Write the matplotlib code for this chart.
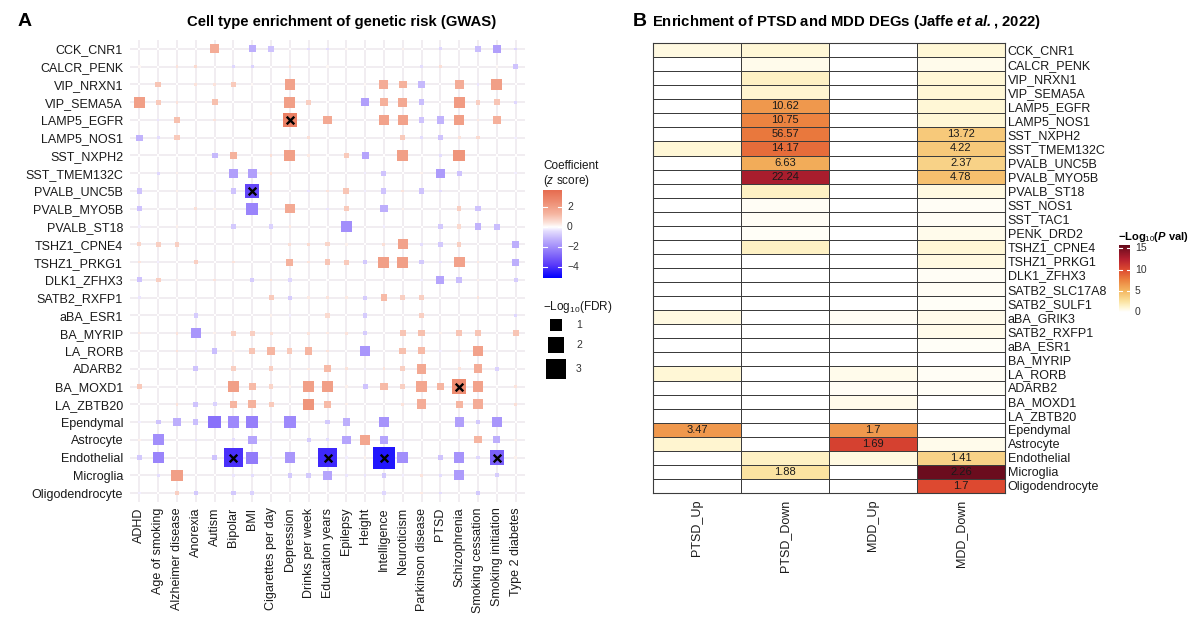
import numpy as np
import matplotlib
matplotlib.use('Agg')
import matplotlib.pyplot as plt
from matplotlib.colors import LinearSegmentedColormap, Normalize

plt.rcParams['font.family'] = ['Liberation Sans', 'DejaVu Sans']
plt.rcParams['mathtext.fontset'] = 'custom'
plt.rcParams['mathtext.rm'] = 'Liberation Sans'
plt.rcParams['mathtext.it'] = 'Liberation Sans:italic'
plt.rcParams['mathtext.bf'] = 'Liberation Sans:bold'
try:
    plt.rcParams['mathtext.bfit'] = 'Liberation Sans:italic:bold'
except Exception:
    pass

# ---------------- Panel A data ----------------
traits = ["ADHD", "Age of smoking", "Alzheimer disease", "Anorexia", "Autism", "Bipolar", "BMI",
          "Cigarettes per day", "Depression", "Drinks per week", "Education years", "Epilepsy",
          "Height", "Intelligence", "Neuroticism", "Parkinson disease", "PTSD", "Schizophrenia",
          "Smoking cessation", "Smoking initiation", "Type 2 diabetes"]
cell_types_a = ["CCK_CNR1", "CALCR_PENK", "VIP_NRXN1", "VIP_SEMA5A", "LAMP5_EGFR", "LAMP5_NOS1",
                "SST_NXPH2", "SST_TMEM132C", "PVALB_UNC5B", "PVALB_MYO5B", "PVALB_ST18",
                "TSHZ1_CPNE4", "TSHZ1_PRKG1", "DLK1_ZFHX3", "SATB2_RXFP1", "aBA_ESR1", "BA_MYRIP",
                "LA_RORB", "ADARB2", "BA_MOXD1", "LA_ZBTB20", "Ependymal", "Astrocyte",
                "Endothelial", "Microglia", "Oligodendrocyte"]

# coefficient (z score), rows = cell types, cols = traits
zscore = [
    [0, 0, 0, 0, 1.6, 0, -1.3, -0.9, 0, -0.4, -0.4, 0.1, 0, 0, 0.2, 0, -0.5, 0, -1.0, -1.6, -0.5],
    [0.1, 0, 0.4, 0.6, 0, -0.5, -0.6, 0, 0.4, 0, 0.1, 0, 0, 0, 0, -0.4, 0.5, 0, 0, 0.1, -0.9],
    [0, 1.0, 0, 0.4, 0.4, 0.9, 0.1, 0, 1.9, 0, 0, 0, 0.1, 1.6, 1.4, -1.1, 0, 1.6, -0.3, 2.0, 0],
    [2.0, 0.9, 0.4, 0.1, 1.1, 0, 0, 0, 2.0, 0.8, 0, 0, -1.6, 1.5, 1.7, -1.0, 0, 2.1, 0.8, 1.0, -0.5],
    [0, -0.3, 1.1, 0, 0.4, 0, 0, 0, 3.0, 0, 1.7, 0, 0, 1.9, 1.9, -0.9, -1.2, 2.0, 0.3, 1.5, 0],
    [-1.2, -0.4, 0.9, 0, 0, 0, 0.1, 0, 0, 0.5, 0, 0, 0, 0, 0.9, -0.4, -0.9, 0.4, 0.6, 0, -0.2],
    [0, 0, 0, 0, -1.1, 1.4, 0, 0.5, 2.0, 0.3, 0, 0.9, -1.5, 0, 2.0, 0, -0.4, 2.3, 0, 0, 0],
    [0, -0.5, 0.2, 0, 0, -1.6, -1.6, 0.4, 0, 0, 0, 0, -0.2, -0.9, 0, 0.2, -1.7, -0.9, 0, 0, -0.2],
    [-0.9, 0, 0.2, 0, -0.2, -0.9, -3.5, 0.3, 0, -0.3, 0.4, 1.0, -0.2, -0.9, 0.4, -0.9, -0.4, 0, 0, 0, 0],
    [-0.9, 0, 0, 0.5, 0.2, 0, -2.2, 0, 1.7, 0, -0.3, 0.9, 0, -1.3, 0.2, 0, 0, 0.8, -0.9, 0, 0],
    [-0.2, 0, 0.2, 0, 0, -0.8, 0, -0.6, 0.3, 0, 0, -2.0, 0, -0.2, 0, 0, -0.8, 0.6, -1.2, -1.0, 0],
    [0.7, 0.8, 0.8, 0, 0, 0, 0, 0, 0.5, 0.6, 0.7, 0.2, 0, 0.5, 1.9, -0.4, -0.8, 0.8, 0, 0, -1.3],
    [0.4, -0.2, 0, 0.8, 0, 0.4, 0, 0, 1.4, 0.4, 1.0, 0.9, -0.8, 2.0, 2.0, -0.8, -0.3, 1.9, 0.3, 0, -1.3],
    [-0.9, 0.8, 0.2, 0, 0.4, 0, -0.7, 0.4, -0.5, 0, 0, 0, 0, 0, 0, -0.2, -1.5, -1.0, 0.2, 0, -0.7],
    [-0.3, 0, 0, 0, 0, 0, 0, 0.9, -0.7, 0.3, 0.4, 0.3, -0.7, 1.2, 0.8, 0.8, 0, 0, 0.4, 0, 0],
    [0, 0, 0, -0.7, 0, 0, 0, 0.2, -0.2, 0, 0.6, 0, -0.7, 0, 0, 0.8, 0, 0, 0, 0, -0.5],
    [0.3, 0, 0.4, -1.8, 0.2, 0.8, 0.8, 0.5, 0, 0.4, 0.3, 0.4, -0.7, 0, 1.0, 1.1, 0.2, 1.0, 1.0, 0, 1.0],
    [0, 0, 0.4, -0.2, -1.0, 0.2, 1.0, 1.3, 0.9, 1.3, 0.4, 0, -1.8, 0, 1.1, 1.2, -0.2, 0.4, 1.9, 0, 0],
    [0, 0, 0, -0.9, 0, 0.8, 0, 0.8, 0.2, 0.3, 1.2, 0.4, -0.2, 0.4, 0.8, 1.7, 0, 0.4, 1.6, -0.6, 0],
    [0.9, 0, 0, 0, 0, 2.0, 1.2, 0.7, 0.2, 2.0, 2.0, 0.2, -0.9, 1.2, 0.8, 1.8, 1.3, 2.6, 1.9, 0, 0.4],
    [0, 0, 0.4, -0.9, -0.6, 1.3, 1.4, 0.9, 0, 2.3, 1.2, 0.2, 0, 0, 0.4, 1.6, 0, 1.3, 1.6, 0, 0.5],
    [-0.2, -0.9, -1.3, -1.0, -2.6, -2.1, -2.3, -0.2, -2.1, 0, -0.8, -1.3, 0, -1.9, 0, 0, 0, -1.6, -0.8, -1.8, 0],
    [0.2, -2.0, 0, -0.3, 0, -0.4, -1.5, -0.2, 0, -0.7, -0.4, -1.5, 1.8, -1.5, -0.2, 0, 0, -0.2, 1.3, -1.3, 0.2],
    [-0.8, -2.2, 0, 0, -0.9, -4.0, -2.4, -0.2, -1.8, 0, -4.2, -0.2, 0.2, -4.6, -2.0, 0, -0.9, -1.9, -0.5, -3.0, 0.2],
    [0, -0.4, 2.0, 0, 0, -0.3, -0.4, 0, -0.8, -0.8, -1.5, -0.3, -0.3, -0.8, -0.2, 0.4, -0.4, -1.7, 0, -0.7, 0],
    [-0.2, 0, 0.8, -0.8, 0, -0.8, -0.6, 0, 0, 0, 0, 0, 0, -0.5, 0, 0.3, -0.4, 0, -0.8, 0, -0.1],
]

# -log10(FDR)
neglog_fdr = [
    [.03, .03, .03, .03, .55, .03, .36, .24, .03, .05, .05, .04, .03, .03, .04, .03, .06, .03, .24, .5, .05],
    [.04, .03, .05, .07, .03, .06, .07, .03, .05, .03, .04, .03, .03, .03, .03, .05, .06, .03, .03, .04, .18],
    [.03, .22, .03, .05, .05, .18, .04, .03, .72, .03, .03, .03, .04, .55, .42, .3, .03, .55, .04, .8, .03],
    [.8, .18, .05, .04, .24, .03, .03, .03, .85, .15, .03, .03, .42, .42, .55, .24, .03, .85, .15, .24, .06],
    [.03, .04, .24, .03, .05, .03, .03, .03, 1.4, .03, .5, .03, .03, .8, .72, .18, .36, .72, .04, .42, .03],
    [.27, .05, .18, .03, .03, .03, .04, .03, .03, .06, .03, .03, .03, .03, .18, .05, .18, .05, .08, .03, .04],
    [.03, .03, .03, .03, .24, .36, .03, .05, .85, .04, .03, .18, .36, .03, .8, .03, .05, .9, .03, .03, .03],
    [.03, .06, .04, .03, .03, .55, .55, .05, .03, .03, .03, .03, .04, .18, .03, .04, .5, .18, .03, .03, .04],
    [.18, .03, .04, .03, .04, .18, 1.4, .04, .03, .04, .05, .24, .04, .18, .05, .18, .05, .03, .03, .03, .03],
    [.18, .03, .03, .06, .04, .03, .95, .03, .6, .03, .04, .18, .03, .36, .04, .03, .03, .15, .18, .03, .03],
    [.04, .03, .04, .03, .03, .15, .03, .12, .04, .03, .03, .8, .03, .04, .03, .03, .15, .12, .3, .24, .03],
    [.12, .15, .15, .03, .03, .03, .03, .03, .06, .08, .12, .04, .03, .06, .72, .05, .15, .15, .03, .03, .36],
    [.05, .04, .03, .15, .03, .05, .03, .03, .36, .05, .22, .18, .15, .85, .85, .15, .04, .8, .04, .03, .36],
    [.18, .15, .04, .03, .05, .03, .12, .05, .08, .03, .03, .03, .03, .03, .03, .04, .42, .22, .04, .03, .12],
    [.04, .03, .03, .03, .03, .03, .03, .18, .12, .04, .05, .04, .12, .3, .15, .15, .03, .03, .05, .03, .03],
    [.03, .03, .03, .12, .03, .03, .03, .04, .04, .03, .12, .03, .12, .03, .03, .15, .03, .03, .03, .03, .08],
    [.04, .03, .05, .72, .04, .15, .15, .06, .03, .05, .04, .05, .12, .03, .24, .27, .04, .24, .24, .03, .24],
    [.03, .03, .05, .04, .18, .04, .22, .36, .18, .36, .05, .03, .66, .03, .3, .34, .04, .05, .72, .03, .03],
    [.03, .03, .03, .18, .03, .15, .03, .15, .04, .04, .3, .05, .04, .05, .15, .66, .03, .05, .55, .12, .03],
    [.18, .03, .03, .03, .03, .9, .34, .12, .04, .85, .85, .04, .18, .36, .15, .72, .36, 1.4, .8, .03, .05],
    [.03, .03, .05, .18, .12, .36, .42, .18, .03, .9, .34, .04, .03, .03, .05, .66, .03, .36, .66, .03, .08],
    [.04, .15, .36, .18, 1.05, .9, .95, .04, .9, .03, .15, .36, .03, .72, .03, .03, .03, .6, .15, .72, .03],
    [.04, .85, .03, .04, .03, .05, .5, .04, .03, .12, .05, .5, .72, .5, .04, .03, .03, .04, .36, .36, .04],
    [.15, .9, .03, .03, .18, 2.3, 1.0, .04, .72, .03, 2.3, .04, .04, 3.4, .8, .03, .18, .72, .08, 1.4, .04],
    [.03, .05, .85, .03, .03, .04, .05, .03, .15, .15, .55, .04, .04, .15, .04, .05, .05, .66, .03, .12, .03],
    [.04, .03, .15, .15, .03, .15, .12, .03, .03, .03, .03, .03, .03, .08, .03, .04, .05, .03, .15, .03, .03],
]
fdr_legend_values = [1, 2, 3]
z_ticks = [2, 0, -2, -4]

# ---------------- Panel B data ----------------
deg_sets = ["PTSD_Up", "PTSD_Down", "MDD_Up", "MDD_Down"]
cell_types_b = ["CCK_CNR1", "CALCR_PENK", "VIP_NRXN1", "VIP_SEMA5A", "LAMP5_EGFR", "LAMP5_NOS1",
                "SST_NXPH2", "SST_TMEM132C", "PVALB_UNC5B", "PVALB_MYO5B", "PVALB_ST18", "SST_NOS1",
                "SST_TAC1", "PENK_DRD2", "TSHZ1_CPNE4", "TSHZ1_PRKG1", "DLK1_ZFHX3", "SATB2_SLC17A8",
                "SATB2_SULF1", "aBA_GRIK3", "SATB2_RXFP1", "aBA_ESR1", "BA_MYRIP", "LA_RORB",
                "ADARB2", "BA_MOXD1", "LA_ZBTB20", "Ependymal", "Astrocyte", "Endothelial",
                "Microglia", "Oligodendrocyte"]
neglog_p = [
    [0.8, 1.0, 0, 1.0], [0, 0.5, 0, 0.5], [0, 1.5, 0, 1.0], [0, 1.2, 0, 1.0],
    [0, 6.5, 0, 1.0], [0, 7.5, 0, 1.0], [0, 8.0, 0, 4.0], [1.0, 8.5, 0, 4.0],
    [0, 5.5, 0, 3.5], [0, 13.0, 0, 4.5], [0, 1.5, 0, 0.8], [0, 0.3, 0, 0.3],
    [0, 0.3, 0, 0.3], [0, 0.2, 0, 0.5], [0, 1.5, 0, 1.0], [0, 0, 0, 0.8],
    [0, 0, 0, 0.3], [0, 0, 0, 0.3], [0, 0, 0, 0.2], [0.8, 0, 0.3, 0.5],
    [0, 0, 0, 0.5], [0, 0, 0, 0.2], [0, 0, 0, 0], [1.0, 0, 0.5, 0.3],
    [0, 0, 0.3, 0.2], [0, 0, 0.5, 0], [0, 0, 0, 0], [6.5, 0, 6.5, 0],
    [1.2, 0, 10.5, 0.5], [0, 1.5, 0.8, 3.5], [0, 2.5, 0, 15.5], [0, 0, 0, 10.0],
]
odds_labels = [
    ["", "", "", ""], ["", "", "", ""], ["", "", "", ""], ["", "", "", ""],
    ["", "10.62", "", ""], ["", "10.75", "", ""], ["", "56.57", "", "13.72"], ["", "14.17", "", "4.22"],
    ["", "6.63", "", "2.37"], ["", "22.24", "", "4.78"], ["", "", "", ""], ["", "", "", ""],
    ["", "", "", ""], ["", "", "", ""], ["", "", "", ""], ["", "", "", ""],
    ["", "", "", ""], ["", "", "", ""], ["", "", "", ""], ["", "", "", ""],
    ["", "", "", ""], ["", "", "", ""], ["", "", "", ""], ["", "", "", ""],
    ["", "", "", ""], ["", "", "", ""], ["", "", "", ""], ["3.47", "", "1.7", ""],
    ["", "", "1.69", ""], ["", "", "", "1.41"], ["", "1.88", "", "2.26"], ["", "", "", "1.7"],
]
p_ticks = [15, 10, 5, 0]

# ---------------- figure ----------------
W, H = 1200, 629
fig = plt.figure(figsize=(W / 100, H / 100), dpi=100)


def ax_px(x0, y0, x1, y1):
    return fig.add_axes([x0 / W, 1 - y1 / H, (x1 - x0) / W, (y1 - y0) / H])


# colormap A (blue - white - salmon)
zmin, zmax = -5.1, 3.7
stops_a = [(-5.1, '#0000FF'), (-3.8, '#5A3AF9'), (-2.55, '#8C74FA'), (-1.3, '#BDAEFC'),
           (-0.4, '#E4DDFE'), (0.0, '#FFFFFF'), (0.4, '#FCE4DC'), (1.3, '#F6B6A2'),
           (2.55, '#EE8D72'), (3.7, '#E66C50')]
cmap_a = LinearSegmentedColormap.from_list(
    'za', [((v - zmin) / (zmax - zmin), c) for v, c in stops_a])
norm_a = Normalize(zmin, zmax)

Z = np.array(zscore)
F = np.array(neglog_fdr)
nr, nc = Z.shape
cols, rows = np.meshgrid(np.arange(nc), np.arange(nr))
size_k = 74.65  # points^2 per unit of -log10(FDR)

axA = ax_px(130, 40, 525, 502)
axA.set_xlim(-0.5, nc - 0.5)
axA.set_ylim(nr - 0.5, -0.5)
for i in range(nc):
    axA.axvline(i, color='#EEE8EE', lw=1.1, zorder=0)
for j in range(nr):
    axA.axhline(j, color='#EEE8EE', lw=1.1, zorder=0)
axA.scatter(cols.ravel(), rows.ravel(), s=size_k * F.ravel(), c=Z.ravel(), cmap=cmap_a,
            norm=norm_a, marker='s', linewidths=0, zorder=2)
sig = F > 1.3
axA.scatter(cols[sig], rows[sig], s=30, marker='x', c='black', linewidths=1.7, zorder=3)
for s in axA.spines.values():
    s.set_visible(False)
axA.set_xticks(range(nc))
axA.set_xticklabels(traits, rotation=90, va='top', ha='center')
axA.set_yticks(range(nr))
axA.set_yticklabels(cell_types_a)
axA.tick_params(length=0, labelsize=9, labelcolor='#1a1a1a')
axA.tick_params(axis='y', pad=5)
axA.tick_params(axis='x', pad=4)

# overlay in pixel coordinates
ov = fig.add_axes([0, 0, 1, 1], zorder=5)
ov.set_xlim(0, W)
ov.set_ylim(H, 0)
ov.axis('off')

ov.text(18, 22, 'A', fontsize=14, fontweight='bold', va='center', ha='left')
ov.text(342, 22, 'Cell type enrichment of genetic risk (GWAS)', fontsize=10.7,
        fontweight='bold', va='center', ha='center')

# coefficient colorbar
ov.text(543, 160, 'Coefficient\n($z$ score)', fontsize=8.5, va='top', ha='left',
        linespacing=1.1, color='#1a1a1a')
caxA = ax_px(543, 190, 562, 278)
grad = np.linspace(zmin, zmax, 256).reshape(-1, 1)
caxA.imshow(grad, aspect='auto', cmap=cmap_a, norm=norm_a, origin='lower',
            extent=[0, 1, zmin, zmax])
caxA.set_xlim(0, 1)
caxA.set_ylim(zmin, zmax)
caxA.axis('off')
for t in z_ticks:
    caxA.plot([0, 0.2], [t, t], color='white', lw=0.8)
    caxA.plot([0.8, 1], [t, t], color='white', lw=0.8)
    ypx = 190 + (zmax - t) / (zmax - zmin) * 88
    ov.text(567, ypx, str(t).replace('-', '\u2212'), fontsize=7.5, va='center',
            ha='left', color='#333333')

# FDR size legend
ov.text(543, 307, '\u2212Log$_{10}$(FDR)', fontsize=8.5, va='center', ha='left', color='#1a1a1a')
leg_y = [325, 345, 369]
ov.scatter([556] * 3, leg_y, s=[size_k * v for v in fdr_legend_values], marker='s',
           c='black', linewidths=0)
for v, yy in zip(fdr_legend_values, leg_y):
    ov.text(576, yy, str(v), fontsize=7.5, va='center', ha='left', color='#333333')

# ---------------- Panel B ----------------
pmax = 15.8
stops_b = [(0, '#FFFFFF'), (1, '#FFF7D6'), (2.5, '#FBE3A0'), (5, '#F4B760'), (7.5, '#EC8340'),
           (10, '#DE4A30'), (12.5, '#B52030'), (15.8, '#650A1C')]
cmap_b = LinearSegmentedColormap.from_list('pb', [(v / pmax, c) for v, c in stops_b])
norm_b = Normalize(0, pmax)

P = np.array(neglog_p)
axB = ax_px(653, 43, 1005, 493)
axB.pcolormesh(np.arange(P.shape[1] + 1) - 0.5, np.arange(P.shape[0] + 1) - 0.5, P,
               cmap=cmap_b, norm=norm_b, edgecolors='#3c3c3c', linewidth=0.7)
axB.set_xlim(-0.5, P.shape[1] - 0.5)
axB.set_ylim(P.shape[0] - 0.5, -0.5)
for i in range(P.shape[0]):
    for j in range(P.shape[1]):
        if odds_labels[i][j]:
            axB.text(j, i, odds_labels[i][j], ha='center', va='center', fontsize=8,
                     color='#1a1a1a')
for s in axB.spines.values():
    s.set_color('#3c3c3c')
    s.set_linewidth(0.8)
axB.yaxis.tick_right()
axB.set_yticks(range(P.shape[0]))
axB.set_yticklabels(cell_types_b, ha='left')
axB.set_xticks(range(P.shape[1]))
axB.set_xticklabels(deg_sets, rotation=90, va='top', ha='center')
axB.tick_params(length=0, labelsize=9, labelcolor='#1a1a1a')
axB.tick_params(axis='y', pad=2)
axB.tick_params(axis='x', pad=5)

ov.text(633, 22, 'B', fontsize=14, fontweight='bold', va='center', ha='left')
ov.text(652, 22, 'Enrichment of PTSD and MDD DEGs (Jaffe $\\mathbfit{et\\ al.}\\mathbf{,}$ 2022)',
        fontsize=10.7, fontweight='bold', va='center', ha='left')

# P-value colorbar
ov.text(1118, 237, '\u2212Log$_{10}$($\\mathbfit{P}$ val)', fontsize=8, fontweight='bold',
        va='center', ha='left')
cb_top, cb_bot = 245, 312
caxB = ax_px(1119, cb_top, 1130, cb_bot)
gradb = np.linspace(0, pmax, 256).reshape(-1, 1)
caxB.imshow(gradb, aspect='auto', cmap=cmap_b, norm=norm_b, origin='lower',
            extent=[0, 1, 0, pmax])
caxB.set_xlim(0, 1)
caxB.set_ylim(0, pmax)
caxB.axis('off')
for t in p_ticks:
    caxB.plot([0, 0.25], [t, t], color='white', lw=0.8)
    caxB.plot([0.75, 1], [t, t], color='white', lw=0.8)
    ypx = cb_top + (pmax - t) / pmax * (cb_bot - cb_top)
    ov.text(1135, ypx, str(t), fontsize=7.5, va='center', ha='left', color='#333333')

fig.savefig('out.png', dpi=100, facecolor='white')
